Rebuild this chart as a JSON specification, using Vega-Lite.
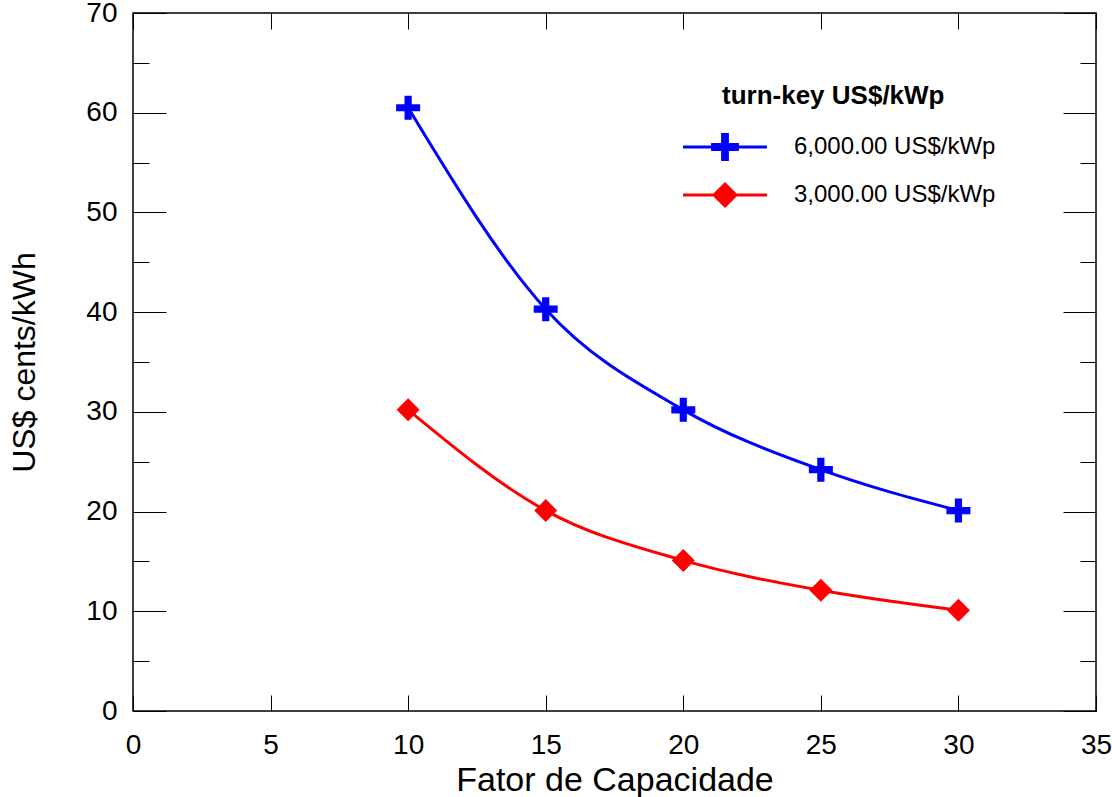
{
  "$schema": "https://vega.github.io/schema/vega-lite/v6.json",
  "width": 963,
  "height": 698,
  "autosize": "none",
  "padding": {"left": 133, "top": 13, "right": 16, "bottom": 86},
  "background": "white",
  "data": {
    "values": [
      {"x": 10, "y": 60.5, "series": "6,000.00 US$/kWp"},
      {"x": 15, "y": 40.3, "series": "6,000.00 US$/kWp"},
      {"x": 20, "y": 30.2, "series": "6,000.00 US$/kWp"},
      {"x": 25, "y": 24.2, "series": "6,000.00 US$/kWp"},
      {"x": 30, "y": 20.1, "series": "6,000.00 US$/kWp"},
      {"x": 10, "y": 30.2, "series": "3,000.00 US$/kWp"},
      {"x": 15, "y": 20.1, "series": "3,000.00 US$/kWp"},
      {"x": 20, "y": 15.1, "series": "3,000.00 US$/kWp"},
      {"x": 25, "y": 12.1, "series": "3,000.00 US$/kWp"},
      {"x": 30, "y": 10.1, "series": "3,000.00 US$/kWp"}
    ]
  },
  "layer": [
    {
      "transform": [{"filter": "datum.series === '6,000.00 US$/kWp'"}],
      "mark": {"type": "line", "interpolate": "monotone", "strokeWidth": 3},
      "encoding": {
        "x": {"field": "x", "type": "quantitative", "scale": {"domain": [0, 35], "nice": false},
          "axis": {"orient": "bottom", "values": [0, 5, 10, 15, 20, 25, 30, 35], "tickSize": -16, "labelPadding": 36,
            "title": "Fator de Capacidade", "titleFontSize": 34, "titlePadding": 4, "grid": false, "domain": false}},
        "y": {"field": "y", "type": "quantitative", "scale": {"domain": [0, 70], "nice": false},
          "axis": {"orient": "left", "values": [0, 10, 20, 30, 40, 50, 60, 70], "tickSize": -33, "labelPadding": 49,
            "title": "US$ cents/kWh", "titleFontSize": 32, "titlePadding": 44, "grid": false, "domain": false}},
        "color": {"field": "series", "type": "nominal",
          "scale": {"domain": ["6,000.00 US$/kWp", "3,000.00 US$/kWp"], "range": ["#0000ff", "#ff0000"]},
          "legend": {
            "title": "turn-key US$/kWp", "orient": "none", "legendX": 589, "legendY": 70, "padding": 0,
            "titleFontSize": 26, "titleFontWeight": "bold", "titleColor": "black", "titlePadding": 26, "titleLimit": 0,
            "labelFontSize": 24, "labelColor": "black", "labelOffset": 48, "labelLimit": 0, "rowPadding": 12,
            "symbolSize": 64, "symbolStrokeWidth": 3,
            "encode": {
              "symbols": {
                "update": {
                  "shape": {"signal": "datum.value === '6,000.00 US$/kWp' ? 'M-12.75,0H8.25M-5.35,-0.6H-2.85V-3.1H-1.65V-0.6H0.85V0.6H-1.65V3.1H-2.85V0.6H-5.35Z' : 'M-12.75,0H8.25M-5,0L-2.25,-2.75L0.5,0L-2.25,2.75Z'"},
                  "fill": {"scale": "color", "field": "value"},
                  "stroke": {"scale": "color", "field": "value"},
                  "strokeWidth": {"value": 3},
                  "opacity": {"value": 1},
                  "fillOpacity": {"value": 1},
                  "strokeOpacity": {"value": 1}
                }
              }
            }
          }
        }
      }
    },
    {
      "transform": [{"filter": "datum.series === '3,000.00 US$/kWp'"}],
      "mark": {"type": "line", "interpolate": "monotone", "strokeWidth": 3},
      "encoding": {
        "x": {"field": "x", "type": "quantitative", "scale": {"domain": [0, 35], "nice": false},
          "axis": {"orient": "top", "values": [0, 5, 10, 15, 20, 25, 30, 35], "tickSize": -16, "labels": false,
            "title": null, "grid": false, "domain": false}},
        "y": {"field": "y", "type": "quantitative", "scale": {"domain": [0, 70], "nice": false},
          "axis": {"orient": "left", "values": [5, 15, 25, 35, 45, 55, 65], "tickSize": -16, "labels": false,
            "title": null, "grid": false, "domain": false}},
        "color": {"field": "series", "type": "nominal"}
      }
    },
    {
      "transform": [{"filter": "datum.series === '6,000.00 US$/kWp'"}],
      "mark": {"type": "point", "filled": true, "opacity": 1, "size": 576, "strokeWidth": 0,
        "shape": "M-1,-0.3H-0.3V-1H0.3V-0.3H1V0.3H0.3V1H-0.3V0.3H-1Z"},
      "encoding": {
        "x": {"field": "x", "type": "quantitative", "scale": {"domain": [0, 35], "nice": false}, "axis": null},
        "y": {"field": "y", "type": "quantitative", "scale": {"domain": [0, 70], "nice": false},
          "axis": {"orient": "right", "values": [0, 10, 20, 30, 40, 50, 60, 70], "tickSize": -33, "labels": false,
            "title": null, "grid": false, "domain": false}},
        "color": {"field": "series", "type": "nominal"}
      }
    },
    {
      "transform": [{"filter": "datum.series === '3,000.00 US$/kWp'"}],
      "mark": {"type": "point", "filled": true, "opacity": 1, "size": 529, "strokeWidth": 0, "shape": "diamond"},
      "encoding": {
        "x": {"field": "x", "type": "quantitative", "scale": {"domain": [0, 35], "nice": false}, "axis": null},
        "y": {"field": "y", "type": "quantitative", "scale": {"domain": [0, 70], "nice": false},
          "axis": {"orient": "right", "values": [5, 15, 25, 35, 45, 55, 65], "tickSize": -16, "labels": false,
            "title": null, "grid": false, "domain": false}},
        "color": {"field": "series", "type": "nominal"}
      }
    }
  ],
  "resolve": {"axis": {"x": "independent", "y": "independent"}},
  "config": {
    "font": "Liberation Sans",
    "view": {"stroke": "black", "strokeWidth": 1.5},
    "axis": {"labelFontSize": 28, "labelColor": "black", "tickColor": "black", "tickWidth": 1,
      "titleColor": "black", "titleFontWeight": "normal", "labelFlush": false, "labelOverlap": false}
  }
}
